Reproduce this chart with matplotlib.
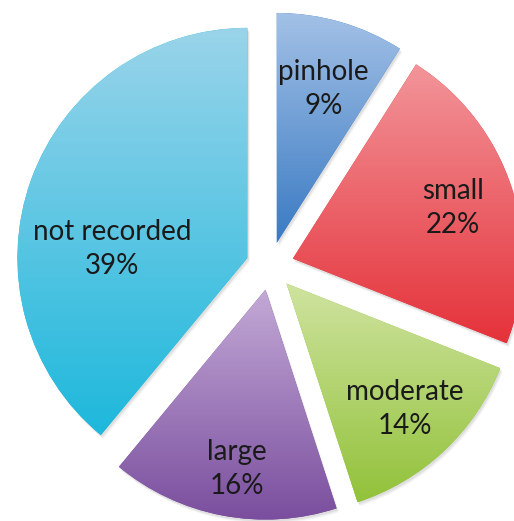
import numpy as np
import matplotlib.pyplot as plt
from matplotlib.colors import to_rgb
from matplotlib.patches import Wedge

# Defect size distribution
categories = ["pinhole", "small", "moderate", "large", "not recorded"]
shares = [9, 22, 14, 16, 39]

# Vertical gradient colours per slice (top -> bottom)
top_colors = ["#A3C1E6", "#F2959A", "#CFE3A0", "#C3A9D6", "#9AD4EA"]
bottom_colors = ["#3A7AC3", "#E5323A", "#92C23A", "#7A4E9E", "#1DB8DC"]

# Label placement: fraction of radius and angular offset from slice middle (deg)
label_radius = [0.70, 0.73, 0.75, 0.79, 0.59]
label_shift = [-0.6, -0.4, 0.0, 1.8, 16.0]

W, H = 514, 521
fig = plt.figure(figsize=(W / 100, H / 100), dpi=100)
ax = fig.add_axes([0, 0, 1, 1])

R = 230
center = (270, 255)
gap = 24  # explode distance, data units

wedges, _ = ax.pie(shares, radius=R, center=center, startangle=90,
                   counterclock=False, explode=[gap] * len(shares),
                   wedgeprops=dict(linewidth=0))
ax.set_xlim(0, W)
ax.set_ylim(0, H)
ax.set_aspect('equal')
ax.axis('off')

for i, w in enumerate(wedges):
    cx, cy = w.center
    t1, t2 = w.theta1, w.theta2
    # soft drop shadow
    for k, a in zip([4, 3, 2], [0.05, 0.07, 0.09]):
        sh = Wedge((cx + k * 0.6, cy - k), w.r, t1, t2, facecolor='#606060',
                   edgecolor='none', alpha=a, zorder=1)
        ax.add_patch(sh)
    w.set_zorder(2)
    w.set_facecolor(bottom_colors[i])
    # extent of the wedge
    ang = np.radians(np.linspace(t1, t2, 200))
    xs = np.concatenate([[cx], cx + w.r * np.cos(ang)])
    ys = np.concatenate([[cy], cy + w.r * np.sin(ang)])
    xmin, xmax, ymin, ymax = xs.min(), xs.max(), ys.min(), ys.max()
    c_top = np.array(to_rgb(top_colors[i]))
    c_bot = np.array(to_rgb(bottom_colors[i]))
    t = np.linspace(0, 1, 256)[:, None]
    grad = (1 - t) * c_top + t * c_bot
    grad = np.repeat(grad[:, None, :], 2, axis=1)
    im = ax.imshow(grad, extent=(xmin, xmax, ymin, ymax), origin='upper',
                   interpolation='bilinear', aspect='auto', zorder=3)
    im.set_clip_path(w)

    mid = np.radians((t1 + t2) / 2 + label_shift[i])
    lr = label_radius[i] * w.r
    ax.text(cx + lr * np.cos(mid), cy + lr * np.sin(mid),
            f"{categories[i]}\n{shares[i]}%", ha='center', va='center',
            fontsize=20, family=['Lato', 'DejaVu Sans'], color='#1a1a1a',
            linespacing=1.4, zorder=5)

ax.set_xlim(0, W)
ax.set_ylim(0, H)
fig.savefig("out.png", dpi=100)
